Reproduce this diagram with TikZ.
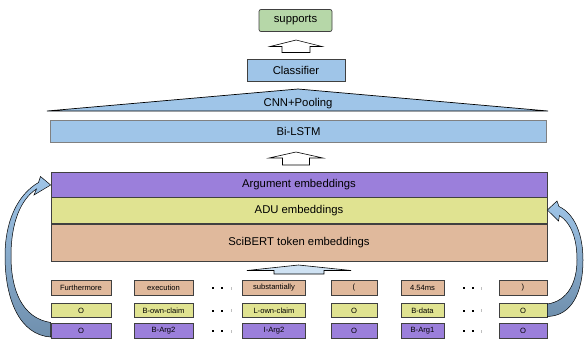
\documentclass[tikz,border=0pt]{standalone}
\usepackage{fontspec}
\setmainfont{Liberation Sans}
\usetikzlibrary{shadings}
\definecolor{lblue}{HTML}{9FC5E8}
\definecolor{pblue}{HTML}{CFE2F3}
\definecolor{sblue}{HTML}{6F8FAD}
\definecolor{argc}{HTML}{9B7FDB}
\definecolor{aduc}{HTML}{E0E391}
\definecolor{sbc}{HTML}{E0B99C}
\definecolor{supc}{HTML}{B6D7A8}
\definecolor{edge}{HTML}{404040}
\tikzset{
  bigfont/.style={font=\fontsize{11.3}{13}\selectfont},
  wide/.style={rectangle, draw=edge, line width=0.7pt, inner sep=0pt, minimum width=496pt, bigfont},
  tok/.style={rectangle, draw=edge, line width=0.7pt, inner sep=0pt, minimum height=14.5pt},
  tokfont/.style={font=\fontsize{7.6}{9}\selectfont},
  blockarrow/.style={draw=black, line width=0.6pt, line join=miter},
  curvearrow/.style={draw=black, line width=0.5pt, top color=lblue, bottom color=sblue},
  dotsq/.style={fill=black, minimum size=2pt, inner sep=0pt, rectangle},
  tick/.style={rectangle, fill=gray!50, minimum width=0.7pt, minimum height=3pt, inner sep=0pt},
}
\begin{document}
\begin{tikzpicture}[x=1pt,y=-1pt]
\useasboundingbox (0,0) rectangle (584,338);
% top
\node[rectangle, rounded corners=2pt, draw=edge, line width=0.7pt, fill=supc, minimum width=73pt, minimum height=22pt, bigfont] (sup) at (295.5,20.5) {supports};
\node[rectangle, draw=edge, line width=0.7pt, fill=lblue, minimum width=98pt, minimum height=22pt, bigfont] (cls) at (296,70) {Classifier};
% arrow 1
\path[blockarrow, fill=white] (296,40) -- (322,46.5) -- (310,46.5) -- (310,52.5) -- (282,52.5) -- (282,46.5) -- (270,46.5) -- cycle;
% triangle
\coordinate (apex) at (298,89);
\coordinate (bl) at (47,111);
\coordinate (br) at (548,111);
\path[draw=black, line width=0.7pt, fill=lblue] (apex) -- (br) -- (bl) -- cycle;
\node[bigfont] (cnn) at (298,103.5) {CNN+Pooling};
% Bi-LSTM
\node[wide, draw=gray, fill=lblue, minimum height=22pt] (bilstm) at (298.5,131) {Bi-LSTM};
% arrow 2
\path[blockarrow, fill=white] (296,152) -- (323,158) -- (309.5,158) -- (309.5,165) -- (282.5,165) -- (282.5,158) -- (269,158) -- cycle;
% embeddings
\node[wide, fill=argc, minimum height=25pt] (arg) at (299,184.5) {Argument embeddings};
\node[wide, fill=aduc, minimum height=26pt, anchor=north] (adu) at (arg.south) {ADU embeddings};
\node[wide, fill=sbc, minimum height=37pt, anchor=north] (sci) at (adu.south) {SciBERT token embeddings};
% wide arrow
\path[blockarrow, fill=pblue] (298.5,265) -- (351,270.5) -- (324,270.5) -- (324,274) -- (274,274) -- (274,270.5) -- (247,270.5) -- cycle;
% tokens
\foreach \r/\y/\c in {1/288/sbc,2/310.5/aduc,3/331/argc}{
  \node[tok, fill=\c, minimum width=60pt] (t\r a) at (81,\y) {};
  \node[tok, fill=\c, minimum width=59pt] (t\r b) at (163.5,\y) {};
  \node[tok, fill=\c, minimum width=63pt] (t\r c) at (274,\y) {};
  \node[tok, fill=\c, minimum width=46pt] (t\r d) at (354,\y) {};
  \node[tok, fill=\c, minimum width=43pt] (t\r e) at (422.5,\y) {};
  \node[tok, fill=\c, minimum width=48pt] (t\r f) at (523,\y) {};
  \node[dotsq] (d\r a) at (212.5,\y) {};
  \node[dotsq] (d\r b) at (222,\y) {};
  \node[tick] (d\r c) at (231,\y) {};
  \node[dotsq] (e\r a) at (464,\y) {};
  \node[dotsq] (e\r b) at (473,\y) {};
  \node[tick] (e\r c) at (481.5,\y) {};
}
\foreach \n/\t in {1a/Furthermore,1b/execution,1c/substantially,1d/(,1e/4.54ms,1f/),
  2a/O,2b/B-own-claim,2c/L-own-claim,2d/O,2e/B-data,2f/O,
  3a/O,3b/B-Arg2,3c/I-Arg2,3d/O,3e/B-Arg1,3f/O}{
  \node[tokfont, inner sep=0pt] (l\n) at (t\n) {\t};
}
% left curved arrow
\path[curvearrow] (t3a.west |- 0,322.5) .. controls (22,318) and (11,290) .. (11,256)
  .. controls (11,222) and (21,199) .. (36.5,189) -- (34,195) -- (arg.west |- 0,185) -- (40.5,176.5)
  -- (38.5,182.5) .. controls (17,195) and (5,222) .. (5,256)
  .. controls (5,300) and (20,335) .. (t3a.west |- 0,337) -- cycle;
% right curved arrow
\path[curvearrow] (t2f.east |- 0,304) .. controls (568,301) and (577,282) .. (577,260)
  .. controls (577,238) and (571,223) .. (559.5,215.5) -- (558.5,221) -- (adu.east |- 0,210) -- (557,201)
  -- (559,206.5) .. controls (575,214) and (583,235) .. (583,260)
  .. controls (583,292) and (572,316) .. (t2f.east |- 0,316.5) -- cycle;
\end{tikzpicture}
\end{document}
